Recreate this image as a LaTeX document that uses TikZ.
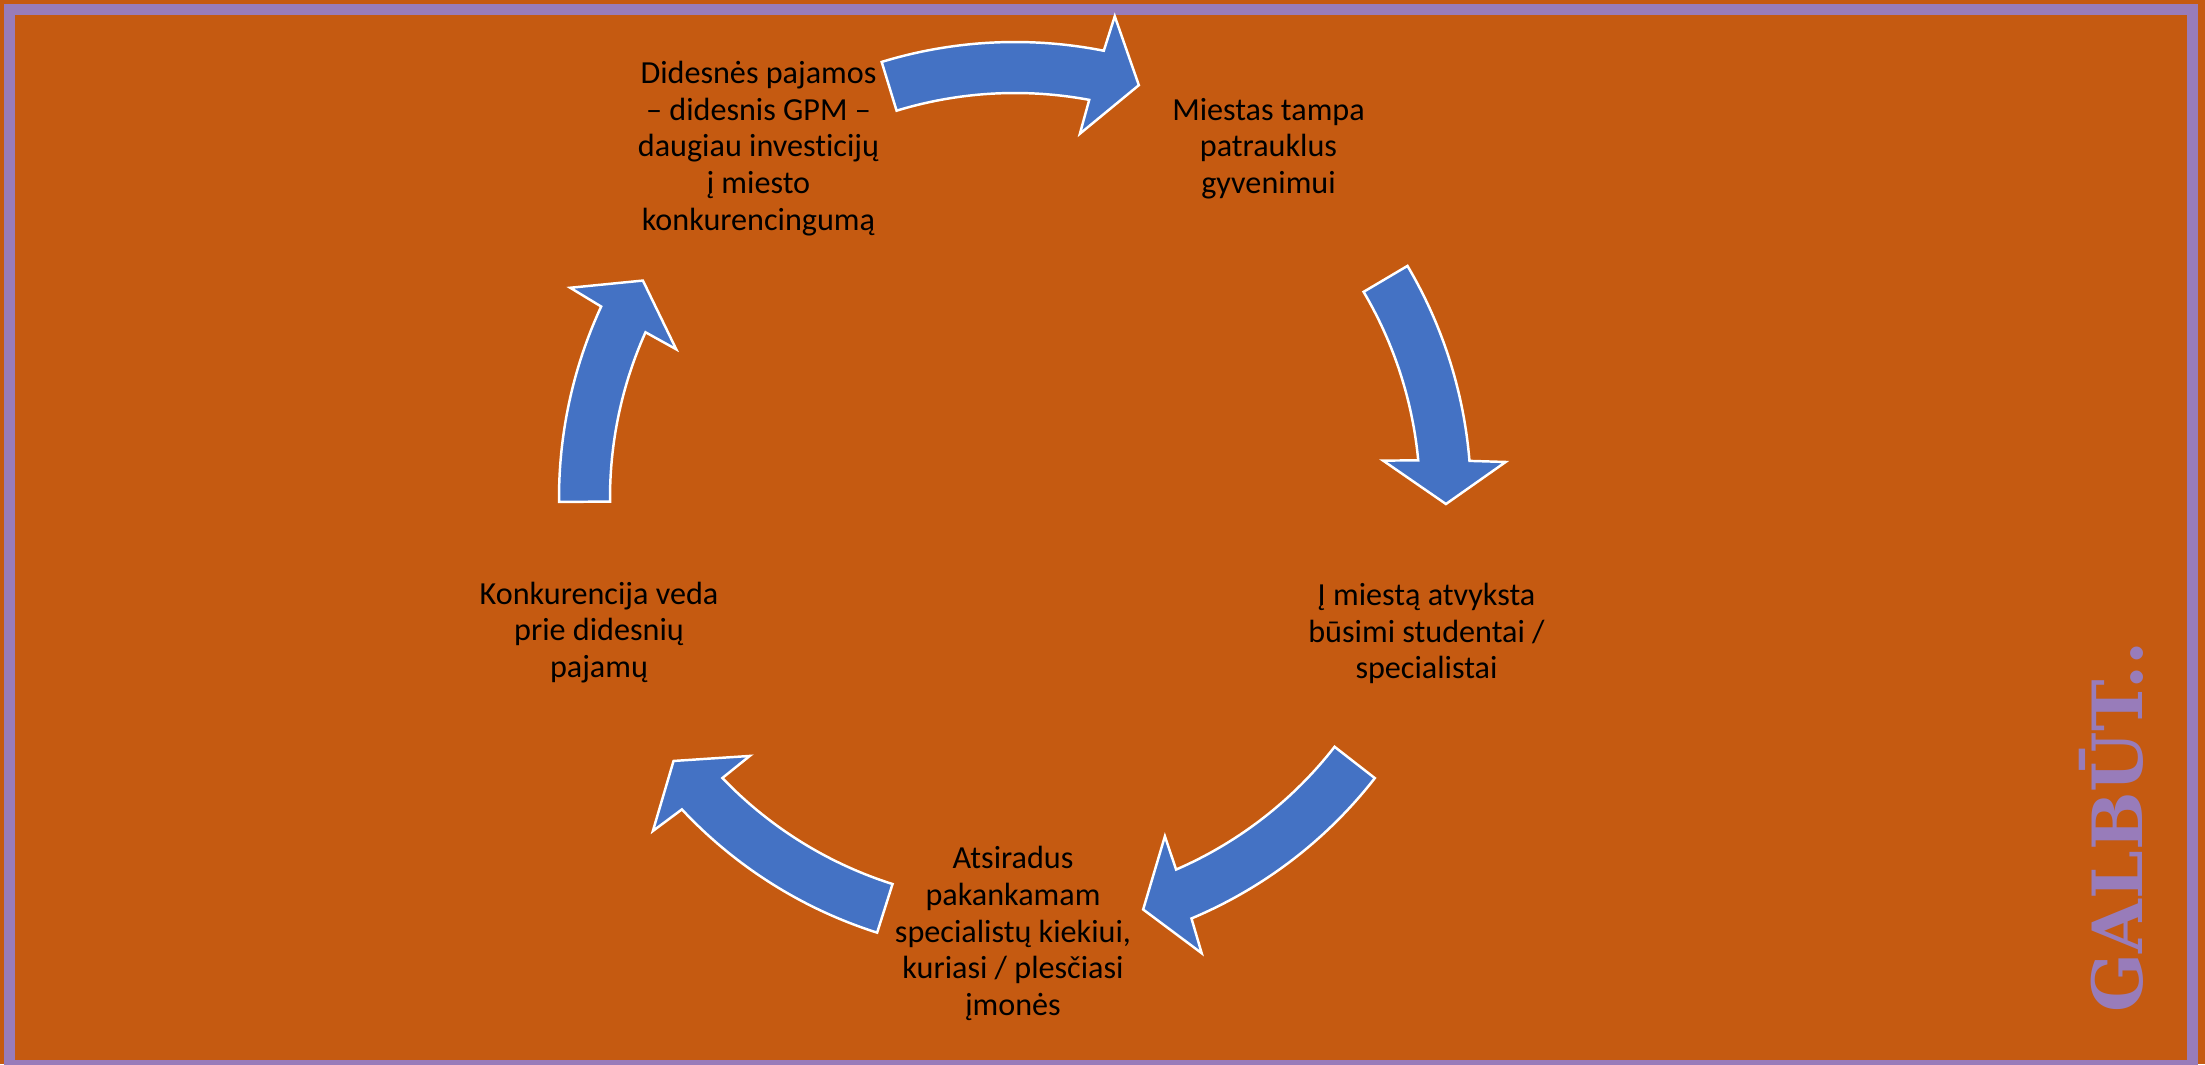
\documentclass[tikz,border=0pt]{standalone}
\usepackage{fontspec}
\setmainfont{Carlito}[RawFeature=-liga]
\newfontfamily\galfont{DejaVu Serif}
\usetikzlibrary{calc}
\definecolor{bgorange}{HTML}{C55A11}
\definecolor{framepurple}{RGB}{152,124,186}
\definecolor{arrowblue}{HTML}{4472C4}
\tikzset{
  steptext/.style={font=\fontsize{9.15}{10.4}\selectfont, align=center, text=black},
  cycarrow/.style={fill=arrowblue, draw=white, line width=0.7pt, line join=miter}
}
% curved block arrow round the hub: #1 tail angle, #2 tip angle
\newcommand{\cyclearrow}[2]{%
  \path[cycarrow] (#1:4.56) arc[start angle=#1, end angle={#2+5.47}, radius=4.56]
    -- ({#2+5}:4.92) -- (#2:4.31) -- ({#2+6.6}:3.70) -- ({#2+6.14}:4.05)
    arc[start angle={#2+6.14}, end angle=#1, radius=4.05] -- cycle;}

\begin{document}
\begin{tikzpicture}
\useasboundingbox (0,0) rectangle (22.05,10.64);
\fill[bgorange] (0,0) rectangle (22.05,10.64);
\draw[framepurple, line width=0.11cm] (0.095,-0.015) rectangle (21.92,10.545);

\coordinate (hub) at (10.15,5.66);
\begin{scope}[shift={(hub)}]
\cyclearrow{107}{73.3}
\cyclearrow{30.6}{-0.8}
\cyclearrow{-37.9}{-72.7}
\cyclearrow{252.4}{217.6}
\cyclearrow{180.5}{149.7}
\end{scope}

\node[steptext] (income) at (7.585,9.155) {Didesnės pajamos\\– didesnis GPM –\\daugiau investicijų\\į miesto\\konkurencingumą};
\node[steptext] (city) at (12.685,9.155) {Miestas tampa\\patrauklus\\gyvenimui};
\node[steptext] (arrive) at (14.265,4.305) {Į miestą atvyksta\\būsimi studentai /\\specialistai};
\node[steptext] (firms) at (10.13,1.305) {Atsiradus\\pakankamam\\specialistų kiekiui,\\kuriasi / plesčiasi\\įmonės};
\node[steptext] (compete) at (5.99,4.315) {Konkurencija veda\\prie didesnių\\pajamų};

\node[rotate=90, anchor=base west, inner sep=0pt, text=framepurple,
  font=\galfont\bfseries\fontsize{19.7}{24}\selectfont] (galbut) at (21.42,0.51) {GALBŪT..};
\end{tikzpicture}
\end{document}
